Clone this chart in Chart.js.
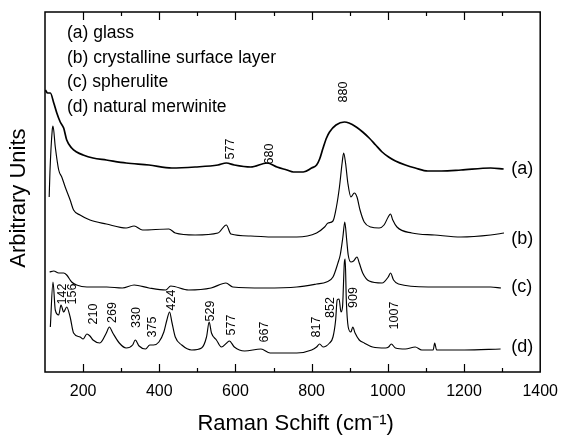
<!DOCTYPE html>
<html>
<head>
<meta charset="utf-8">
<script src="https://cdn.jsdelivr.net/npm/chart.js@4/dist/chart.umd.min.js"></script>
<style>
  html, body { margin: 0; padding: 0; background: #fff; }
  canvas { display: block; }
</style>
</head>
<body>
<canvas id="c" width="568" height="440"></canvas>
<script>
// ---- Data (y in arbitrary units, traces offset vertically) ----
const seriesNames = ['(a)', '(b)', '(c)', '(d)'];
const legendLines = ['(a) glass', '(b) crystalline surface layer', '(c) spherulite', '(d) natural merwinite'];
const xTickValues = [200, 400, 600, 800, 1000, 1200, 1400];

const aX = [101,107,114,123,131,140,149,157,170,183,200,226,261,313,373,433,494,554,576,597,640,683,709,735,752,778,800,813,821,830,839,847,864,886,898,917,934,951,968,985,1002,1020,1046,1072,1105,1141,1192,1270,1304];
const aY = [282,279,279,269,259,250,244,232,224,220,217,214,212,209,207,204,205,207,209,207,205,209,205,202,200,200,204,207,213,224,234,240,247,250,249,245,240,234,227,220,215,211,207,204,201,201,202,204,203];

const bX = [111,113,119,121,127,136,144,153,166,175,192,218,261,313,334,356,425,442,494,554,576,588,640,700,761,813,834,843,856,865,873,880,884,889,895,903,912,919,927,938,955,977,990,1001,1007,1013,1024,1063,1123,1192,1270,1305];
const bY = [175,200,242,246,225,202,195,185,172,162,157,152,148,144,146,142,143,139,137,139,147,138,136,135,135,139,145,149,151,165,185,209,219,209,189,175,179,175,162,150,145,144,147,155,158,152,145,139,137,135,137,139];

const cX = [112,123,136,149,157,170,183,210,262,303,334,373,417,430,477,536,575,593,676,761,813,839,856,869,875,882,887,892,896,903,910,919,925,934,951,985,1001,1007,1015,1028,1106,1270,1297];
const cY = [100,101,99,99,97,90,87,85,85,84,87,84,82,86,82,84,89,85,84,85,88,90,95,109,117,135,150,132,117,110,111,115,109,99,91,89,95,99,92,88,85,85,84];

const dX = [114,121,127,136,142,149,157,166,175,192,200,210,218,226,244,261,269,278,295,313,330,337,347,364,375,385,399,412,420,427,433,442,459,485,511,524,531,537,550,563,577,584,597,624,667,691,761,800,813,821,830,847,856,863,867,872,877,881,886,888,891,896,903,908,914,925,938,960,994,1002,1009,1020,1046,1072,1089,1119,1123,1128,1201,1296];
const dY = [45,90,62,57,67,60,65,55,39,35,33,38,36,32,29,39,45,39,29,24,27,32,26,23,27,27,30,40,52,60,50,35,27,22,24,35,50,39,32,25,29,31,25,21,23,19,19,22,25,28,25,29,35,52,72,73,60,65,110,113,72,45,40,45,39,32,29,25,24,25,28,24,23,25,22,22,29,22,22,23];

// Peak annotations: text with anchor in data units
const peakText = ['577','680','880','142','156','210','269','330','375','424','529','577','667','817','852','909','1007'];
const peakAtX  = [587, 690, 885, 145, 172, 228, 277, 341, 383, 431, 535, 590, 677, 813, 849, 911, 1017];
const peakAtY  = [223, 218, 280, 78, 78, 58, 59.5, 54.5, 45, 72, 61, 47, 40, 45, 64.5, 74.5, 56.5];

const FONT = "'Liberation Sans', Arial, Helvetica, sans-serif";
Chart.defaults.font.family = FONT;
Chart.defaults.color = '#000';

const toPts = (xs, ys) => xs.map((x, i) => ({ x: x, y: ys[i] }));

const overlay = {
  id: 'overlay',
  afterDraw(chart) {
    const { ctx, chartArea: ca, scales: { x, y } } = chart;
    ctx.save();
    // frame
    ctx.strokeStyle = '#000';
    ctx.lineWidth = 1.5;
    ctx.strokeRect(ca.left, ca.top, ca.right - ca.left, ca.bottom - ca.top);
    // inward ticks top & bottom
    ctx.lineWidth = 1.2;
    x.ticks.forEach(t => {
      if (t.value <= x.min || t.value >= x.max) return;
      const px = Math.round(x.getPixelForValue(t.value)) + 0.5;
      const len = t.value % 200 === 0 ? 8 : 4;
      ctx.beginPath();
      ctx.moveTo(px, ca.bottom); ctx.lineTo(px, ca.bottom - len);
      ctx.moveTo(px, ca.top); ctx.lineTo(px, ca.top + len);
      ctx.stroke();
    });
    ctx.fillStyle = '#000';
    // legend text block
    ctx.font = '17.5px ' + FONT;
    ctx.textAlign = 'left';
    ctx.textBaseline = 'alphabetic';
    legendLines.forEach((s, i) => ctx.fillText(s, ca.left + 22, ca.top + 26 + i * 24.7));
    // series labels at right
    ctx.font = '18px ' + FONT;
    const lblY = [174, 244, 292, 352];
    seriesNames.forEach((s, i) => ctx.fillText(s, ca.right - 29, lblY[i]));
    // peak labels (rotated)
    ctx.font = '12.5px ' + FONT;
    ctx.textAlign = 'center';
    ctx.textBaseline = 'middle';
    peakText.forEach((s, i) => {
      const px = x.getPixelForValue(peakAtX[i]);
      const py = y.getPixelForValue(peakAtY[i]);
      ctx.save();
      ctx.translate(px, py);
      ctx.rotate(-Math.PI / 2);
      ctx.fillText(s, 0, 0);
      ctx.restore();
    });
    ctx.restore();
  }
};

const mk = (xs, ys, w) => ({
  data: toPts(xs, ys),
  borderColor: '#000',
  borderWidth: w,
  pointRadius: 0,
  fill: false,
  cubicInterpolationMode: 'monotone'
});

new Chart(document.getElementById('c'), {
  type: 'line',
  data: {
    datasets: [mk(aX, aY, 1.7), mk(bX, bY, 1.15), mk(cX, cY, 1.15), mk(dX, dY, 1.15)]
  },
  options: {
    responsive: false,
    animation: false,
    devicePixelRatio: 1,
    layout: { padding: { left: 0, right: 22, top: 12, bottom: 0 } },
    plugins: { legend: { display: false }, tooltip: { enabled: false } },
    scales: {
      x: {
        type: 'linear',
        min: 100, max: 1400,
        ticks: {
          stepSize: 100,
          autoSkip: false,
          maxRotation: 0,
          padding: 10,
          font: { size: 16 },
          color: '#000',
          callback: v => (xTickValues.includes(v) ? String(v) : '')
        },
        grid: { display: false, drawTicks: false },
        border: { display: false },
        title: { display: true, text: ' Raman Schift (cm\u207B\u00B9)', font: { size: 22 }, color: '#000', padding: { top: 0, bottom: 3 } },
        afterFit: s => { s.height = 68; }
      },
      y: {
        min: 0, max: 360,
        ticks: { display: false },
        grid: { display: false, drawTicks: false },
        border: { display: false },
        title: { display: true, text: 'Arbitrary Units  ', font: { size: 22 }, color: '#000', padding: { top: 6, bottom: 0 } },
        afterFit: s => { s.width = 45; }
      }
    }
  },
  plugins: [overlay]
});
</script>
</body>
</html>
